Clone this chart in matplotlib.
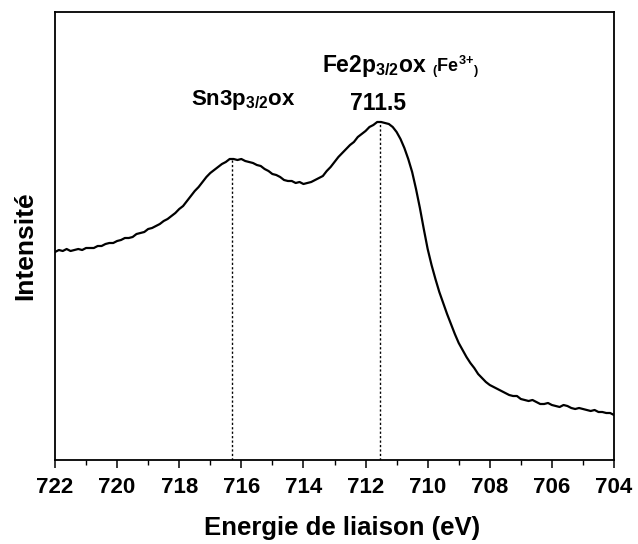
import numpy as np
import matplotlib
matplotlib.use("Agg")
import matplotlib.pyplot as plt
from matplotlib.ticker import MultipleLocator

# Spectrum read off the picture: intensity (a.u., as picture height) sampled
# every 0.125 eV from 722 eV down to 704 eV
signal_raw = [
    252, 250, 251, 249, 251, 250, 249, 250, 248, 248, 248, 246, 246, 244, 243, 243,
    241, 240, 238, 238, 237, 234, 233, 232, 229, 228, 226, 224, 221, 219, 216, 213,
    209, 206, 201, 196, 191, 187, 182, 177, 173, 170, 167, 164, 162, 159, 159, 160,
    159, 161, 162, 163, 165, 166, 169, 171, 174, 175, 177, 180, 181, 181, 183, 182,
    184, 183, 182, 180, 178, 176, 171, 167, 162, 157, 153, 149, 145, 142, 137, 134,
    131, 127, 125, 122, 122, 123, 124, 127, 132, 139, 148, 159, 172, 189, 208, 229,
    249, 265, 279, 292, 303, 314, 324, 334, 343, 350, 357, 363, 368, 374, 378, 382,
    385, 387, 389, 391, 393, 395, 396, 396, 399, 400, 401, 400, 402, 404, 404, 403,
    405, 406, 407, 405, 406, 408, 409, 408, 409, 410, 411, 410, 412, 412, 413, 413,
    415]
energy = np.linspace(722.0, 704.0, len(signal_raw))
intensity = [460 - v for v in signal_raw]

peak_sn = 716.3
peak_fe = 711.55

xticks = [722, 720, 718, 716, 714, 712, 710, 708, 706, 704]

plt.rcParams["font.family"] = ["Liberation Sans", "DejaVu Sans"]
plt.rcParams["font.weight"] = "bold"
plt.rcParams["mathtext.fontset"] = "custom"
plt.rcParams["mathtext.rm"] = "Liberation Sans:bold"
plt.rcParams["mathtext.bf"] = "Liberation Sans:bold"
plt.rcParams["mathtext.default"] = "rm"

fig = plt.figure(figsize=(6.38, 5.44), dpi=100)
ax = fig.add_axes([55/638, 1 - 460/544, (614-55)/638, (460-12)/544])

ax.plot(energy, intensity, color="black", lw=1.6)

e_rev = energy[::-1]
i_rev = intensity[::-1]
for p in (peak_sn, peak_fe):
    top = np.interp(p, e_rev, i_rev)
    ax.vlines(p, 0, top, colors="black", linestyles=(0, (1.6, 1.6)), lw=1.0)

ax.set_xlim(722, 704)
ax.set_ylim(0, 448)
ax.set_xticks(xticks)
ax.set_xticklabels([str(t) for t in xticks])
ax.xaxis.set_minor_locator(MultipleLocator(1))
ax.set_yticks([])

for s in ax.spines.values():
    s.set_linewidth(1.3)

ax.tick_params(axis="x", which="major", direction="out", length=6, width=1.1,
               labelsize=16, pad=6)
ax.tick_params(axis="x", which="minor", direction="out", length=3.8, width=1.0)

ax.set_xlabel("Energie de liaison (eV)", fontsize=18.5, fontweight="bold")
ax.xaxis.set_label_coords(0.513, -0.125)
ax.set_ylabel("Intensité", fontsize=19, fontweight="bold")
ax.yaxis.set_label_coords(-0.032, 0.478)

ax.text(717.62, 355, r"Sn3p$_{3/2}$ox", fontsize=16, fontweight="bold",
        ha="left", va="baseline")
ax.text(712.50, 350, "711.5", fontsize=16.5, fontweight="bold",
        ha="left", va="baseline")
ax.text(713.40, 388, r"Fe2p$_{3/2}$ox", fontsize=16.5, fontweight="bold",
        ha="left", va="baseline")
ax.text(709.86, 388, r"$_($Fe$^{3}$$^{+}$$_)$", fontsize=13, fontweight="bold",
        ha="left", va="baseline")

fig.savefig("out.png", dpi=100)
